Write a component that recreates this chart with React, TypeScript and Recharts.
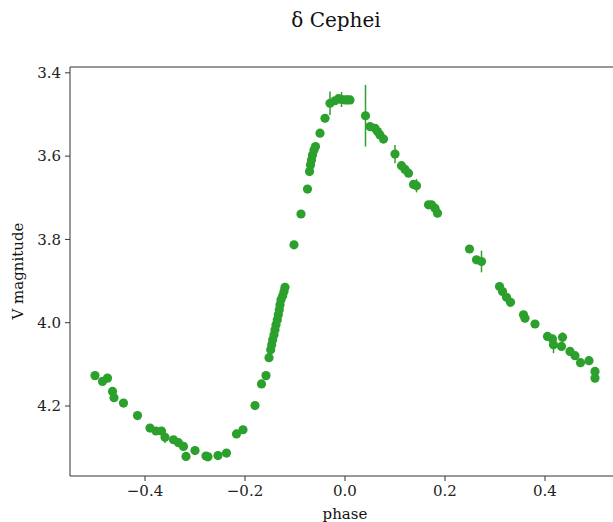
import { ScatterChart, Scatter, XAxis, YAxis, ErrorBar, ReferenceLine } from "recharts";

// phase-folded V band light curve of delta Cephei
const phase = [
  -0.5, -0.485, -0.475, -0.465, -0.462, -0.443, -0.415, -0.39, -0.378, -0.367,
  -0.36, -0.343, -0.333, -0.323, -0.318, -0.3, -0.278, -0.274, -0.254, -0.237,
  -0.217, -0.204, -0.18, -0.167, -0.158, -0.152, -0.1486, -0.1466, -0.1446, -0.142,
  -0.14, -0.138, -0.1354, -0.1334, -0.1314, -0.13, -0.128, -0.1246, -0.122, -0.12,
  -0.102, -0.088, -0.075, -0.071, -0.069, -0.067, -0.065, -0.062, -0.059, -0.05,
  -0.04, -0.03, -0.02, -0.013, -0.007, 0.0, 0.005, 0.01,
  0.041, 0.05, 0.06, 0.065, 0.07, 0.077, 0.1, 0.113, 0.12, 0.127,
  0.137, 0.143, 0.167, 0.173, 0.18, 0.185,
  0.249, 0.263, 0.273, 0.309, 0.315, 0.323, 0.331, 0.357, 0.36, 0.38,
  0.405, 0.415, 0.417, 0.435, 0.433, 0.45, 0.46, 0.471, 0.488, 0.5, 0.5,
];

const vmag = [
  4.127, 4.141, 4.133, 4.165, 4.18, 4.193, 4.223, 4.253, 4.26, 4.26,
  4.275, 4.281, 4.288, 4.297, 4.321, 4.307, 4.32, 4.322, 4.319, 4.313,
  4.267, 4.257, 4.199, 4.147, 4.127, 4.084, 4.065, 4.053, 4.041, 4.029,
  4.017, 4.005, 3.993, 3.981, 3.969, 3.957, 3.945, 3.935, 3.925, 3.915,
  3.813, 3.739, 3.679, 3.637, 3.621, 3.609, 3.597, 3.585, 3.577, 3.545,
  3.509, 3.473, 3.467, 3.462, 3.464, 3.465, 3.465, 3.465,
  3.503, 3.529, 3.533, 3.541, 3.549, 3.559, 3.595, 3.623, 3.632, 3.641,
  3.668, 3.671, 3.717, 3.717, 3.725, 3.737,
  3.823, 3.849, 3.853, 3.913, 3.925, 3.939, 3.951, 3.981, 3.989, 4.003,
  4.033, 4.039, 4.053, 4.035, 4.057, 4.069, 4.079, 4.096, 4.091, 4.117, 4.133,
];

// uncertainties, most hidden under the markers
const verr = [
  0.006, 0.006, 0.006, 0.006, 0.006, 0.006, 0.006, 0.006, 0.006, 0.006,
  0.014, 0.006, 0.006, 0.006, 0.006, 0.006, 0.006, 0.006, 0.006, 0.006,
  0.006, 0.006, 0.006, 0.006, 0.006, 0.006, 0.006, 0.006, 0.006, 0.006,
  0.006, 0.006, 0.006, 0.006, 0.006, 0.006, 0.006, 0.006, 0.006, 0.006,
  0.006, 0.006, 0.006, 0.006, 0.006, 0.006, 0.006, 0.006, 0.006, 0.006,
  0.006, 0.028, 0.006, 0.006, 0.018, 0.006, 0.01, 0.006,
  0.074, 0.006, 0.006, 0.006, 0.006, 0.006, 0.022, 0.006, 0.006, 0.006,
  0.006, 0.016, 0.006, 0.006, 0.006, 0.006,
  0.006, 0.006, 0.026, 0.006, 0.006, 0.006, 0.006, 0.006, 0.006, 0.006,
  0.006, 0.006, 0.02, 0.012, 0.006, 0.006, 0.006, 0.006, 0.006, 0.006, 0.006,
];

const xTicks = [-0.4, -0.2, 0, 0.2, 0.4];
const yTicks = [3.4, 3.6, 3.8, 4.0, 4.2];

const data = phase.map((p, i) => ({ phase: p, mag: vmag[i], err: verr[i] }));

const green = "#2ca02c";
const spine = "#333";
const font = "'DejaVu Serif', serif";
const tickStyle = { fontFamily: font, fontSize: 15, fill: "#222" };

const fmt = (v: number) => v.toFixed(1).replace("-", "\u2212");

const Dot = (props: any) => <circle cx={props.cx} cy={props.cy} r={4.6} fill={green} />;

export default function App() {
  return (
    <div style={{ position: "absolute", left: 0, top: 0, width: 613, height: 522, overflow: "hidden", background: "#fff" }}>
      <div style={{ position: "absolute", left: 0, top: 8, width: 672, textAlign: "center", fontFamily: font, fontSize: 20, lineHeight: "24px", color: "#111" }}>
        δ Cephei
      </div>
      <div style={{ position: "absolute", left: 295, width: 100, top: 505, textAlign: "center", fontFamily: font, fontSize: 15, lineHeight: "18px", color: "#111" }}>
        phase
      </div>
      <div style={{ position: "absolute", left: 18, top: 271, width: 0, height: 0 }}>
        <div style={{ position: "absolute", left: -70, top: -9, width: 140, textAlign: "center", transform: "rotate(-90deg)", fontFamily: font, fontSize: 15, lineHeight: "18px", color: "#111" }}>
          V magnitude
        </div>
      </div>
      <ScatterChart width={700} height={522} margin={{ top: 67, right: 80, bottom: 0, left: 0 }}>
        <XAxis
          type="number"
          dataKey="phase"
          domain={[-0.55, 0.55]}
          ticks={xTicks}
          tickFormatter={fmt}
          height={46}
          tickSize={5}
          tickMargin={4}
          tick={tickStyle}
          axisLine={{ stroke: spine }}
          tickLine={{ stroke: spine }}
          allowDataOverflow
        />
        <YAxis
          type="number"
          dataKey="mag"
          reversed
          domain={[3.386, 4.368]}
          ticks={yTicks}
          tickFormatter={fmt}
          width={70}
          tickSize={5}
          tickMargin={4}
          tick={tickStyle}
          axisLine={{ stroke: spine }}
          tickLine={{ stroke: spine }}
          allowDataOverflow
        />
        <ReferenceLine y={3.386} stroke={spine} strokeWidth={1} ifOverflow="extendDomain" />
        <Scatter data={data} fill={green} shape={<Dot />} isAnimationActive={false}>
          <ErrorBar dataKey="err" direction="y" width={0} stroke={green} strokeWidth={1.5} />
        </Scatter>
      </ScatterChart>
    </div>
  );
}
